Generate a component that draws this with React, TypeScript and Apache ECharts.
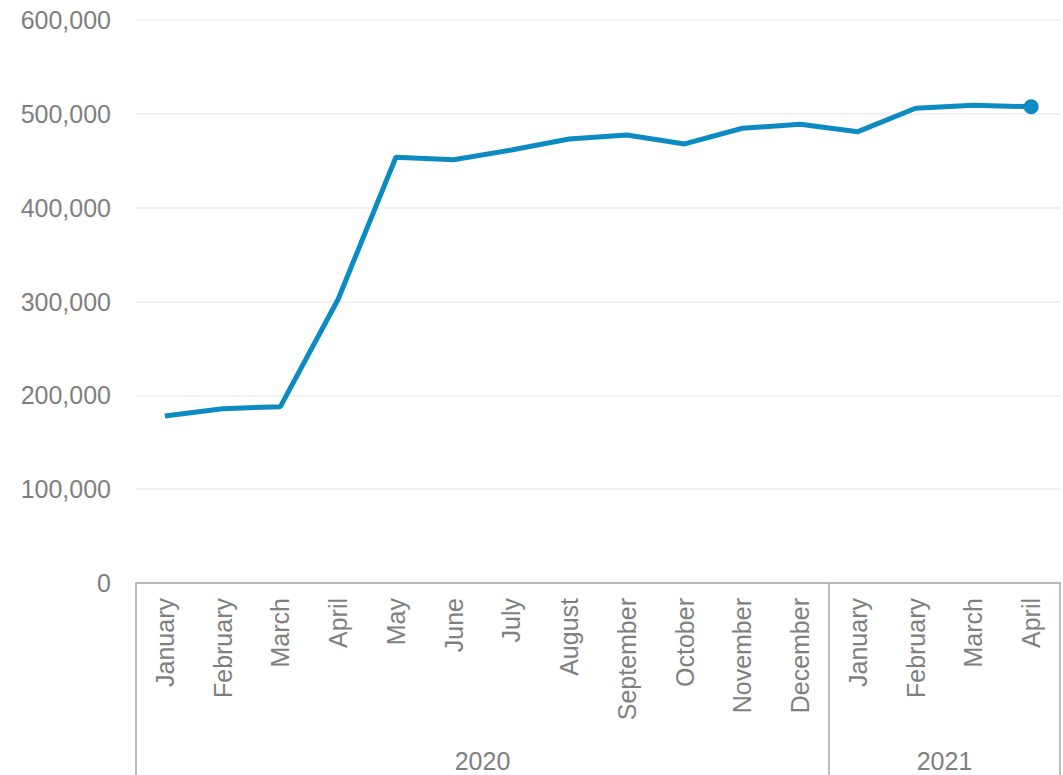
import React, { useEffect, useRef } from "react";
import * as echarts from "echarts";

const months = [
  "January", "February", "March", "April", "May", "June", "July", "August",
  "September", "October", "November", "December",
  "January", "February", "March", "April",
];
const years = ["2020", "2021"];
const monthsPerYear = [12, 4];
const values = [
  178000, 185800, 187900, 302400, 453700, 451100, 461500, 473200,
  477500, 467900, 484600, 488900, 481000, 505900, 509100, 507600,
];
const yTicks = [0, 100000, 200000, 300000, 400000, 500000, 600000];

const GRAY = "#7f7f7f";
const LINE = "#0b8bc2";
const FONT = "Liberation Sans, Arial, sans-serif";

export default function App() {
  const ref = useRef<HTMLDivElement>(null);
  useEffect(() => {
    if (!ref.current) return;
    const chart = echarts.init(ref.current, undefined, { renderer: "svg" });

    const bounds: number[] = [0];
    const centers: number[] = [];
    let acc = 0;
    monthsPerYear.forEach((n) => {
      centers.push(acc + n / 2);
      acc += n;
      bounds.push(acc);
    });

    const data = values.map((v, i) =>
      i === values.length - 1
        ? { value: v, symbol: "circle", symbolSize: 15 }
        : { value: v, symbol: "none" }
    );

    chart.setOption({
      animation: false,
      textStyle: { fontFamily: FONT },
      grid: { left: 136, right: 3, top: 20, bottom: 192, containLabel: false },
      xAxis: [
        {
          type: "category",
          data: months,
          boundaryGap: true,
          axisLine: { show: true, lineStyle: { color: "#a6a6a6", width: 1.5 } },
          axisTick: { show: false },
          axisLabel: {
            rotate: 90,
            interval: 0,
            fontSize: 25,
            color: GRAY,
            margin: 15,
            fontFamily: FONT,
          },
          splitLine: { show: false },
        },
        {
          type: "value",
          position: "bottom",
          min: 0,
          max: acc,
          axisLine: { show: false },
          splitLine: { show: false },
          axisTick: {
            show: true,
            customValues: bounds,
            length: 192,
            lineStyle: { color: "#a6a6a6", width: 1.5 },
          },
          axisLabel: {
            show: true,
            customValues: centers,
            formatter: (v: number) => {
              const idx = centers.findIndex((c) => Math.abs(c - v) < 1e-6);
              return idx >= 0 ? years[idx] : "";
            },
            fontSize: 25,
            color: GRAY,
            margin: 165,
            fontFamily: FONT,
          },
        },
      ],
      yAxis: {
        type: "value",
        min: yTicks[0],
        max: yTicks[yTicks.length - 1],
        interval: 100000,
        axisLine: { show: false },
        axisTick: { show: false },
        axisLabel: {
          fontSize: 25,
          color: GRAY,
          margin: 25,
          formatter: (v: number) => v.toLocaleString("en-US"),
          fontFamily: FONT,
        },
        splitLine: { show: true, lineStyle: { color: "#ececec", width: 1.5 } },
      },
      series: [
        {
          type: "line",
          xAxisIndex: 0,
          data,
          showSymbol: true,
          lineStyle: { color: LINE, width: 5 },
          itemStyle: { color: LINE },
        },
      ],
    });

    return () => chart.dispose();
  }, []);

  return (
    <div
      ref={ref}
      style={{ position: "fixed", left: 0, top: 0, width: 1063, height: 775, background: "#fff" }}
    />
  );
}
